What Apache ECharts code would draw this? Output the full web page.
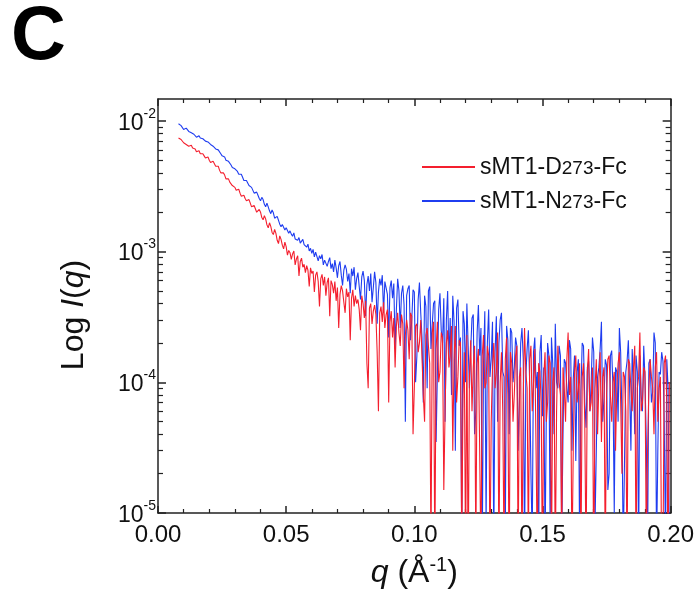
<!DOCTYPE html>
<html><head><meta charset="utf-8">
<script src="https://cdn.jsdelivr.net/npm/echarts@6/dist/echarts.min.js"></script>
<style>html,body{margin:0;padding:0;background:#fff}#c{width:697px;height:599px}</style>
</head><body><div id="c"></div>
<script>
// q grid (Å^-1): uniform sampling from 0.008 in steps of 0.0005
const qStart = 0.008, qStep = 0.0005, qCount = 384;
// Intensities in units of 1e-4
const blueI = [
95,94,92,89,86,87,88,85,83,82,81,80,79,77,75,76,77,74,72,73,
73,70,68,69,70,66,64,64,63,61,59,60,58,56,54,55,53,50,49,49,
48,46,44,45,43,42,41,39,38,39,37,35,34,35,34,32,31,31,30,28,
27.5,28.5,27,25.5,24.5,26,25,23,22,23.5,22,20.5,19.5,20.8,19.8,18,17.5,18.6,18,16.2,
15.5,16.1,15.8,14.6,15.2,14.9,13.8,14.4,13.6,13.1,13.9,12.5,12.9,12.2,12.8,11.6,11.9,12.4,11.3,11.0,
10.8,11.4,10.1,10.6,9.7,10.4,9.1,9.9,9.6,8.5,9.3,8.8,9.5,7.9,8.6,8.9,7.7,8.4,9.0,7.4,
8.1,7.0,8.6,7.5,6.3,7.8,8.4,6.6,5.5,7.2,7.9,7.3,5.9,6.8,4.8,7.4,6.5,7.6,5.1,6.2,
6.9,5.4,4.3,6.4,7.1,6.0,3.2,5.6,6.5,5.0,6.8,4.1,5.3,7.0,5.8,2.8,4.9,6.2,5.5,6.6,
3.4,5.9,6.1,4.7,2.2,5.3,6.0,4.4,5.7,1.8,3.6,6.2,5.0,2.6,4.8,5.5,3.9,0.5,4.6,5.2,
5.5,2.1,3.0,5.1,4.9,1.0,1.6,4.3,5.8,3.4,2.2,0.7,4.6,3.8,0.9,5.0,5.4,1.8,2.8,4.0,
4.2,0.35,1.2,3.6,4.8,2.5,2.0,4.4,0.5,3.0,5.0,1.5,3.1,0.8,4.6,2.9,0.3,3.7,4.3,1.9,
2.2,0.06,3.5,2.8,1.0,4.0,4.1,0.9,1.8,3.1,3.3,0.4,0.6,2.4,3.9,1.6,2.6,0.05,1.4,3.5,
0.08,2.0,3.6,1.1,1.5,2.9,0.05,1.7,3.2,0.5,2.0,3.0,3.4,1.2,1.1,0.07,2.7,2.1,0.4,2.6,
2.4,1.0,1.3,2.2,1.9,0.3,0.7,2.0,2.6,1.5,0.05,1.1,1.8,2.5,1.0,0.2,0.06,1.7,2.2,0.9,
1.2,0.05,1.7,2.3,0.55,1.3,0.05,0.6,2.0,1.6,0.07,2.2,1.4,0.4,2.8,1.0,0.9,1.9,1.6,0.06,
0.4,1.5,1.4,0.9,0.7,2.1,1.8,0.3,1.05,1.6,0.25,1.2,1.5,0.05,0.85,2.0,1.9,0.7,0.45,1.3,
1.45,0.6,1.0,2.2,1.7,0.08,0.3,1.1,1.3,1.8,2.9,0.5,0.75,1.5,1.35,0.15,0.2,1.6,1.75,0.9,
0.1,1.3,1.2,0.5,2.6,1.7,0.55,0.05,0.05,1.2,1.45,2.1,0.9,0.3,1.8,1.0,0.4,1.6,1.2,0.05,
1.6,0.8,0.6,1.9,1.05,0.35,0.05,1.4,1.5,0.7,0.85,2.4,2.0,0.05,0.3,1.2,1.15,1.7,1.45,0.5,
0.05,1.5,0.9,0.05
];
const redI = [
74,73,72,70,68,69,66,67,64,63,65,62,60,61,58,59,59,56,55,56,
54,52,52,53,50,48,47,49,48,45,44,45,42,40,39,40,38.5,36,35,36,
34,33,32,33,31,29.5,29,30,28,26.5,26,27,25.5,24.5,24,25,23.5,22,21.5,22.5,
21.8,20,19.5,21,20,18.2,17.5,18.8,17.8,16,15.2,16.6,15.6,14,13.5,14.8,13.8,12.2,11.5,13.2,
12.4,11.2,10.5,11.8,10.9,9.4,10.2,9.8,8.7,9.6,10.1,7.9,8.8,9.3,6.5,8.4,8.9,7.6,8.0,6.9,
7.8,7.2,5.4,7.5,6.8,7.1,4.9,6.6,7.0,5.9,3.8,6.2,6.7,5.5,6.4,4.6,5.8,6.3,3.2,6.0,
5.6,4.8,5.9,4.2,5.3,2.6,4.7,5.5,5.0,4.1,3.4,5.2,4.5,4.9,2.1,4.4,5.1,3.8,4.6,4.0,
4.3,3.6,2.5,4.6,4.0,3.1,4.2,1.4,0.9,3.7,4.0,2.8,3.5,3.9,3.3,1.7,0.6,3.4,3.8,2.9,
4.1,2.6,3.3,3.6,0.7,2.9,3.5,2.2,3.1,1.3,2.7,3.4,2.4,1.9,3.3,2.8,0.9,2.3,3.0,2.5,
1.5,3.4,3.2,0.4,0.9,2.7,2.8,1.7,2.0,3.0,3.1,0.8,0.5,2.3,2.6,1.9,1.4,0.05,2.4,2.9,
0.04,1.8,2.9,1.0,1.2,2.4,2.2,0.15,0.6,2.0,2.5,1.3,1.6,2.7,0.3,1.5,2.7,0.7,1.1,2.1,
2.0,0.05,0.8,1.7,0.04,2.3,0.03,1.1,2.1,0.6,1.3,1.9,0.05,1.4,1.8,0.3,0.04,1.6,2.3,0.9,
1.0,1.9,1.6,0.04,0.5,1.3,2.0,0.9,1.2,2.4,0.04,1.0,1.7,0.6,0.05,1.5,2.2,0.8,0.03,1.7,
1.4,0.5,0.8,1.6,1.9,0.04,1.1,1.3,0.04,0.8,2.6,1.2,0.9,0.05,1.5,1.9,0.6,1.0,1.8,0.3,
0.04,1.4,1.2,0.7,0.03,1.1,1.7,0.5,0.7,1.6,1.4,0.04,1.0,1.3,0.04,0.6,1.9,1.0,0.8,0.05,
1.3,0.9,0.5,1.5,2.4,0.8,1.1,0.04,0.3,1.2,1.6,0.7,0.9,1.4,0.04,1.1,1.4,0.5,0.04,1.2,
1.8,0.6,0.7,1.3,0.03,0.9,1.5,0.4,1.0,1.7,0.35,1.1,1.3,0.04,0.8,1.5,1.6,0.8,0.5,1.0,
1.2,0.3,0.9,1.4,1.7,0.7,0.2,1.2,1.1,0.6,0.04,1.5,1.4,0.9,0.6,1.3,1.9,0.04,0.9,1.1,
2.4,0.6,0.7,1.3,1.2,0.05,0.3,0.9,1.5,1.1,0.9,0.4,1.3,1.7,0.5,0.9,1.1,0.03,0.04,1.4,
1.6,0.7,0.03,1.0
];
const seriesNames = ['sMT1-D273-Fc', 'sMT1-N273-Fc'];
const legendParts = {'sMT1-D273-Fc': ['sMT1-D', '273', '-Fc'], 'sMT1-N273-Fc': ['sMT1-N', '273', '-Fc']};
const yMajor = [1e-5, 1e-4, 1e-3, 1e-2];
const yMinor = [];
for (let e = -5; e <= -3; e++) for (let m = 2; m <= 9; m++) yMinor.push(m * Math.pow(10, e));

const q = [];
for (let i = 0; i < qCount; i++) q.push(+(qStart + i * qStep).toFixed(4));
const toPairs = arr => arr.map((v, i) => [q[i], v * 1e-4]);

const FONT = 'Liberation Sans, Arial, sans-serif';
const AX = {lineStyle: {color: '#222', width: 1.5}};
const chart = echarts.init(document.getElementById('c'));
const yBase = {type: 'log', logBase: 10, min: 1e-5, max: 0.0147, splitLine: {show: false}, minorTick: {show: false}};
chart.setOption({
  animation: false,
  backgroundColor: '#fff',
  graphic: [{type: 'text', left: 11, top: 0, style: {text: 'C', fontSize: 76, fontWeight: 'bold', fontFamily: FONT, fill: '#000'}}],
  grid: {left: 158, top: 99, width: 513, height: 414},
  legend: {
    orient: 'vertical', left: 417, top: 151, itemWidth: 53, itemHeight: 2, itemGap: 11, icon: 'rect',
    data: seriesNames,
    formatter: n => '{n|' + legendParts[n][0] + '}{s|' + legendParts[n][1] + '}{n|' + legendParts[n][2] + '}',
    textStyle: {rich: {
      n: {fontSize: 23, fontFamily: FONT, color: '#111', lineHeight: 24, verticalAlign: 'bottom'},
      s: {fontSize: 19, fontFamily: FONT, color: '#111', verticalAlign: 'bottom', padding: [0, 0, 1, 0]}
    }}
  },
  xAxis: [{
    type: 'value', min: 0, max: 0.2, interval: 0.05, position: 'bottom',
    axisLine: AX, axisTick: {inside: true, length: 7, lineStyle: {color: '#222', width: 1.5}},
    minorTick: {show: true, splitNumber: 5, length: 4, lineStyle: {color: '#222', width: 1.2}},
    splitLine: {show: false},
    axisLabel: {margin: 10, fontSize: 24, fontFamily: FONT, color: '#111', formatter: v => v.toFixed(2)},
    name: '{i|q}{n| (Å}{s|-1}{n|)}', nameLocation: 'middle', nameGap: 42,
    nameTextStyle: {rich: {
      i: {fontSize: 32, fontStyle: 'italic', fontFamily: FONT, color: '#111', lineHeight: 34, verticalAlign: 'bottom'},
      n: {fontSize: 32, fontFamily: FONT, color: '#111', lineHeight: 34, verticalAlign: 'bottom'},
      s: {fontSize: 20, fontFamily: FONT, color: '#111', verticalAlign: 'top'}
    }}
  }, {
    type: 'value', min: 0, max: 0.2, interval: 0.05, position: 'top',
    axisLine: AX, axisTick: {inside: true, length: 7, lineStyle: {color: '#222', width: 1.5}},
    minorTick: {show: true, splitNumber: 5, length: 4, lineStyle: {color: '#222', width: 1.2}},
    splitLine: {show: false}, axisLabel: {show: false}
  }],
  yAxis: [Object.assign({}, yBase, {
    position: 'left', axisLine: AX,
    axisTick: {inside: true, length: 8, customValues: yMajor, lineStyle: {color: '#222', width: 1.5}},
    axisLabel: {customValues: yMajor, margin: 2, formatter: v => '{b|10}{s|' + Math.round(Math.log10(v)) + '}',
      rich: {
        b: {fontSize: 23, fontFamily: FONT, color: '#111', lineHeight: 28, verticalAlign: 'bottom'},
        s: {fontSize: 14, fontFamily: FONT, color: '#111', verticalAlign: 'top'}
      }},
    name: '{n|Log }{i|I}{n|(}{i|q}{n|)}', nameLocation: 'middle', nameGap: 68, nameRotate: 90,
    nameTextStyle: {padding: [0, 18, 0, 0], rich: {
      n: {fontSize: 32, fontFamily: FONT, color: '#111'},
      i: {fontSize: 32, fontStyle: 'italic', fontFamily: FONT, color: '#111'}
    }}
  }), Object.assign({}, yBase, {
    position: 'left', axisLine: {show: false},
    axisTick: {inside: true, length: 5, customValues: yMinor, lineStyle: {color: '#222', width: 1.2}},
    axisLabel: {show: false}
  }), Object.assign({}, yBase, {
    position: 'right', axisLine: AX,
    axisTick: {inside: true, length: 8, customValues: yMajor, lineStyle: {color: '#222', width: 1.5}},
    axisLabel: {show: false}
  }), Object.assign({}, yBase, {
    position: 'right', axisLine: {show: false},
    axisTick: {inside: true, length: 5, customValues: yMinor, lineStyle: {color: '#222', width: 1.2}},
    axisLabel: {show: false}
  })],
  series: [{
    name: seriesNames[1], type: 'line', xAxisIndex: 0, yAxisIndex: 0, symbol: 'none', showSymbol: false,
    clip: true, data: toPairs(blueI), color: '#1f3df0', lineStyle: {width: 1.1, color: '#1f3df0'}
  }, {
    name: seriesNames[0], type: 'line', xAxisIndex: 0, yAxisIndex: 0, symbol: 'none', showSymbol: false,
    clip: true, data: toPairs(redI), color: '#f41f2e', lineStyle: {width: 1.1, color: '#f41f2e'}
  }]
});
</script>
</body></html>
